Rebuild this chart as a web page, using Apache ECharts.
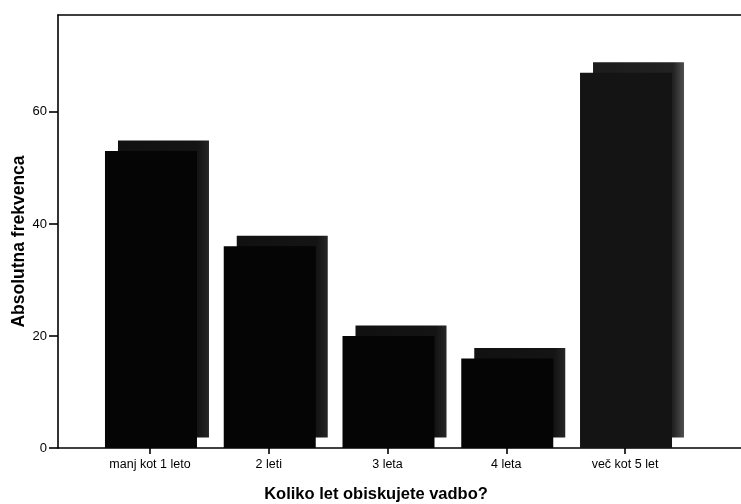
<!DOCTYPE html>
<html>
<head>
<meta charset="utf-8">
<script src="https://cdn.jsdelivr.net/npm/echarts@6/dist/echarts.min.js"></script>
<style>html,body{margin:0;padding:0;background:#fff;}#c{width:741px;height:504px;}</style>
</head>
<body>
<div id="c"></div>
<script>
const categories = ['manj kot 1 leto', '2 leti', '3 leta', '4 leta', 'več kot 5 let'];
const frequencies = [53, 36, 20, 16, 67];
const yTicks = [0, 20, 40, 60];
const yTitle = 'Absolutna frekvenca';
const xTitle = 'Koliko let obiskujete vadbo?';

const Y_MAX = 77.3;
const FONT = '"Liberation Sans", Arial, sans-serif';
const BAR_W = 92, DX = 13, DY = 10.5;
const LINE = {color: '#000', width: 1.6};

const chart = echarts.init(document.getElementById('c'), null, {renderer: 'canvas'});
chart.setOption({
  animation: false,
  backgroundColor: '#fff',
  grid: [
    {left: 58, right: 0, top: 15, bottom: 56},
    {left: 90.6, width: 593.8, top: 15, bottom: 56}
  ],
  xAxis: [
    {gridIndex: 0, type: 'value', min: 0, max: 1, position: 'bottom',
     axisLine: {show: true, lineStyle: LINE}, axisTick: {show: false}, axisLabel: {show: false}, splitLine: {show: false}},
    {gridIndex: 0, type: 'value', min: 0, max: 1, position: 'top',
     axisLine: {show: true, lineStyle: LINE}, axisTick: {show: false}, axisLabel: {show: false}, splitLine: {show: false}},
    {gridIndex: 1, type: 'category', data: categories, boundaryGap: true,
     axisLine: {show: false},
     axisTick: {show: true, alignWithLabel: true, length: 6, lineStyle: LINE},
     axisLabel: {margin: 10, fontFamily: FONT, fontSize: 12.5, color: '#000', interval: 0}}
  ],
  yAxis: [
    {gridIndex: 0, type: 'value', min: 0, max: Y_MAX,
     axisLine: {show: true, lineStyle: LINE},
     axisTick: {show: true, length: 9, customValues: yTicks, lineStyle: LINE},
     axisLabel: {margin: 11, fontFamily: FONT, fontSize: 13, color: '#000', customValues: yTicks},
     splitLine: {show: false}},
    {gridIndex: 1, type: 'value', min: 0, max: Y_MAX, show: false}
  ],
  series: [{
    type: 'custom',
    xAxisIndex: 2, yAxisIndex: 1,
    data: frequencies.map((v, i) => [i, v]),
    encode: {x: 0, y: 1},
    renderItem: function (params, api) {
      const top = api.coord([api.value(0), api.value(1)]);
      const base = api.coord([api.value(0), 0]);
      const x0 = top[0] - BAR_W / 2 + 1;
      const h = base[1] - top[1];
      const last = params.dataIndex === frequencies.length - 1;
      return {
        type: 'group',
        children: [
          {type: 'rect', shape: {x: x0 + DX, y: top[1] - DY, width: BAR_W - 1, height: h},
           style: {fill: {type: 'linear', x: 0, y: 0, x2: 1, y2: 0, colorStops: [
             {offset: 0, color: last ? '#1c1c1c' : '#111'},
             {offset: 0.88, color: last ? '#222' : '#141414'},
             {offset: 1, color: last ? '#505050' : '#262626'}]}}},
          {type: 'rect', shape: {x: x0, y: top[1], width: BAR_W, height: h},
           style: {fill: last ? '#141414' : '#050505'}}
        ]
      };
    }
  }],
  graphic: [
    {id: 'xt', type: 'text', x: 376, y: 494, style: {text: xTitle, font: 'bold 16.5px ' + FONT, fill: '#000', textAlign: 'center', textVerticalAlign: 'middle'}},
    {id: 'yt', type: 'text', x: 19.5, y: 241.5, rotation: Math.PI / 2, style: {text: yTitle, font: 'bold 17.5px ' + FONT, fill: '#000', textAlign: 'center', textVerticalAlign: 'middle'}}
  ]
});
</script>
</body>
</html>
